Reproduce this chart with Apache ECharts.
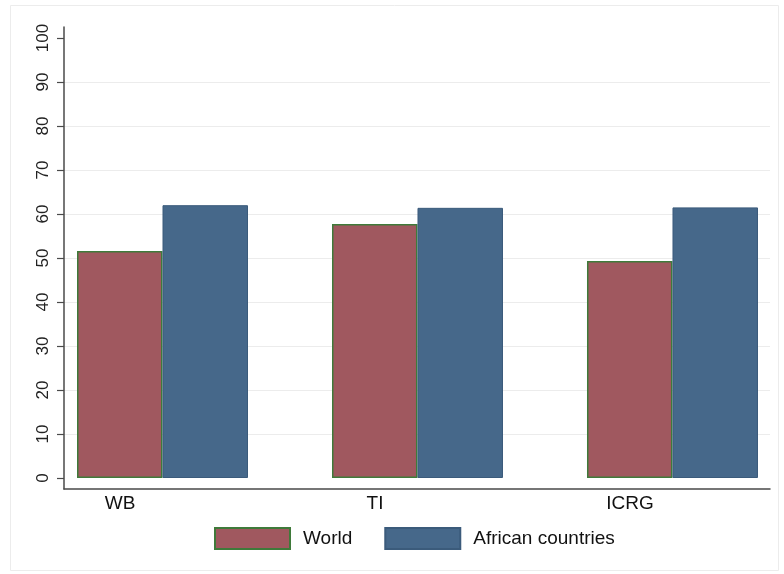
<!DOCTYPE html>
<html>
<head>
<meta charset="utf-8">
<script src="https://cdn.jsdelivr.net/npm/echarts@6/dist/echarts.min.js"></script>
<style>
html,body{margin:0;padding:0;background:#fff;}
#chart{width:784px;height:574px;}
</style>
</head>
<body>
<div id="chart"></div>
<script>
const categories = ['WB', 'TI', 'ICRG'];
const worldValues = [51.6, 57.7, 49.3];
const africaValues = [62.0, 61.4, 61.5];
const yTicks = [0, 10, 20, 30, 40, 50, 60, 70, 80, 90, 100];
const seriesNames = ['World', 'African countries'];

const chart = echarts.init(document.getElementById('chart'), null, {renderer: 'canvas'});
const FONT = 'Liberation Sans, Arial, Helvetica, sans-serif';
const axisColor = '#4a4a4a';

// category positions on a numeric axis (index of category)
const catIdx = categories.map(function (c, i) { return i; });
const worldData = catIdx.map(function (i) { return [i, worldValues[i]]; });
const africaData = catIdx.map(function (i) { return [i, africaValues[i]]; });

const option = {
  backgroundColor: '#ffffff',
  animation: false,
  graphic: [{
    type: 'rect',
    shape: {x: 10.5, y: 5.5, width: 768, height: 565},
    style: {fill: 'none', stroke: '#ececec', lineWidth: 1},
    z: -10
  }],
  legend: {
    left: 214,
    top: 527,
    padding: 0,
    itemWidth: 75,
    itemHeight: 21,
    itemGap: 32,
    icon: 'rect',
    textStyle: {fontFamily: FONT, fontSize: 19, color: '#111', padding: [0, 0, 0, 8]},
    data: seriesNames
  },
  grid: [
    {left: 64, width: 706, top: 38, height: 440, containLabel: false},
    {left: 64, width: 706, top: 27, height: 462, containLabel: false}
  ],
  xAxis: [
    {
      gridIndex: 0, type: 'value', min: -0.3863, max: 2.3824,
      position: 'bottom',
      axisLine: {show: false, onZero: false}, axisTick: {show: false},
      splitLine: {show: false},
      axisLabel: {
        customValues: catIdx,
        fontFamily: FONT, fontSize: 19, color: '#111', margin: 16,
        padding: [0, 85, 0, 0],
        formatter: function (v) { return categories[Math.round(v)] || ''; }
      }
    },
    {
      gridIndex: 1, type: 'value', min: 0, max: 1,
      position: 'bottom',
      axisLine: {show: true, onZero: false, lineStyle: {color: axisColor, width: 1.5}},
      axisTick: {show: false}, axisLabel: {show: false}, splitLine: {show: false}
    }
  ],
  yAxis: [
    {
      gridIndex: 0, type: 'value', min: 0, max: 100, interval: 10,
      position: 'left',
      axisLine: {show: false, onZero: false},
      axisTick: {show: true, length: 7, lineStyle: {color: axisColor, width: 1.2}},
      axisLabel: {
        rotate: 90, margin: 12, fontFamily: FONT, fontSize: 17, color: '#222',
        formatter: function (v) { return yTicks.indexOf(v) >= 0 ? String(v) : ''; }
      },
      splitLine: {show: true, showMinLine: false, showMaxLine: false, lineStyle: {color: '#ececec', width: 1}}
    },
    {
      gridIndex: 1, type: 'value', min: 0, max: 1,
      position: 'left',
      axisLine: {show: true, onZero: false, lineStyle: {color: axisColor, width: 1.5}},
      axisTick: {show: false}, axisLabel: {show: false}, splitLine: {show: false}
    }
  ],
  series: [
    {
      name: seriesNames[0], type: 'bar', xAxisIndex: 0, yAxisIndex: 0,
      data: worldData, barWidth: 85.5, barGap: '0%',
      itemStyle: {color: '#a0585f', borderColor: '#3f7a3a', borderWidth: 1.5}
    },
    {
      name: seriesNames[1], type: 'bar', xAxisIndex: 0, yAxisIndex: 0,
      data: africaData, barWidth: 85.5, barGap: '0%',
      itemStyle: {color: '#46688a', borderColor: '#3b5b7b', borderWidth: 1}
    }
  ]
};
chart.setOption(option);
</script>
</body>
</html>
